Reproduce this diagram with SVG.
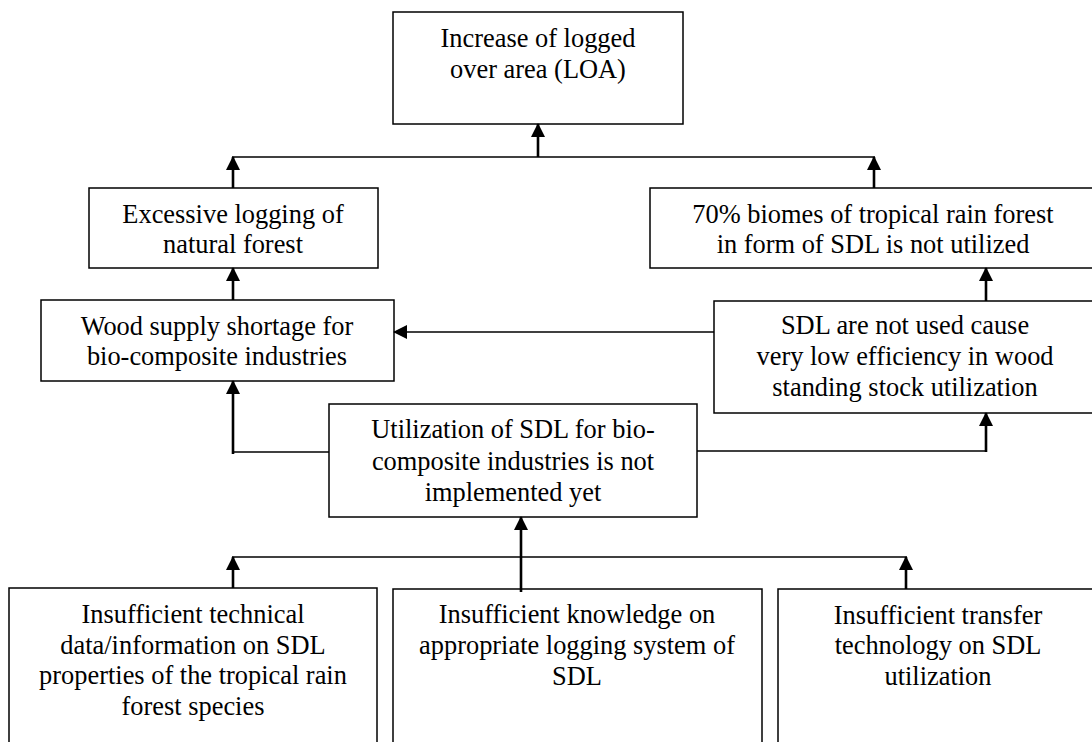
<svg xmlns="http://www.w3.org/2000/svg" width="1092" height="742" viewBox="0 0 1092 742">
<style>
.box{fill:#fff;stroke:#000;stroke-width:1.5}
.t{font-family:'Liberation Serif','Times New Roman',Tinos,'DejaVu Serif',serif;font-size:26.4px;fill:#000;text-anchor:middle}
.c{fill:none;stroke:#000;stroke-width:1.6}
.a{fill:none;stroke:#000;stroke-width:2.6;marker-end:url(#ah)}
.ah{fill:none;stroke:#000;stroke-width:1.6;marker-end:url(#ah)}
</style>
<defs>
<marker id="ah" markerUnits="userSpaceOnUse" markerWidth="14" markerHeight="14" refX="13" refY="7" orient="auto" viewBox="0 0 14 14">
<path d="M0,0 L14,7 L0,14 z" fill="#000"/>
</marker>
</defs>
<rect width="1092" height="742" fill="#fff"/>
<g id="n-loa">
<rect class="box" x="393" y="12" width="290" height="112"/>
<text class="t" font-family="Liberation Serif, serif" x="538" y="47">Increase of logged</text>
<text class="t" font-family="Liberation Serif, serif" x="538" y="78">over area (LOA)</text>
</g>
<g id="n-excessive">
<rect class="box" x="89" y="188" width="289" height="80"/>
<text class="t" x="233" y="223">Excessive logging of</text>
<text class="t" x="233" y="253">natural forest</text>
</g>
<g id="n-biomes">
<rect class="box" x="650" y="188" width="447" height="80"/>
<text class="t" x="873" y="223">70% biomes of tropical rain forest</text>
<text class="t" x="873" y="253">in form of SDL is not utilized</text>
</g>
<g id="n-wood">
<rect class="box" x="41" y="300" width="353" height="81"/>
<text class="t" x="217" y="335">Wood supply shortage for</text>
<text class="t" x="217" y="365">bio-composite industries</text>
</g>
<g id="n-sdl">
<rect class="box" x="714" y="301" width="383" height="112"/>
<text class="t" x="905" y="334">SDL are not used cause</text>
<text class="t" x="905" y="365">very low efficiency in wood</text>
<text class="t" x="905" y="396">standing stock utilization</text>
</g>
<g id="n-util">
<rect class="box" x="329" y="404" width="368" height="113"/>
<text class="t" x="513" y="438">Utilization of SDL for bio-</text>
<text class="t" x="513" y="470">composite industries is not</text>
<text class="t" x="513" y="501">implemented yet</text>
</g>
<g id="n-technical">
<rect class="box" x="9" y="588" width="368" height="170"/>
<text class="t" x="193" y="623">Insufficient technical</text>
<text class="t" x="193" y="654">data/information on SDL</text>
<text class="t" x="193" y="684">properties of the tropical rain</text>
<text class="t" x="193" y="715">forest species</text>
</g>
<g id="n-knowledge">
<rect class="box" x="393" y="589" width="369" height="170"/>
<text class="t" x="577" y="623">Insufficient knowledge on</text>
<text class="t" x="577" y="654">appropriate logging system of</text>
<text class="t" x="577" y="685">SDL</text>
</g>
<g id="n-transfer">
<rect class="box" x="778" y="589" width="320" height="170"/>
<text class="t" x="938" y="624">Insufficient transfer</text>
<text class="t" x="938" y="654">technology on SDL</text>
<text class="t" x="938" y="685">utilization</text>
</g>
<g id="connectors">
<line class="c" x1="232" y1="157" x2="875" y2="157"/>
<line class="a" x1="233" y1="188" x2="233" y2="157"/>
<line class="a" x1="874" y1="188" x2="874" y2="157"/>
<line class="a" x1="538" y1="157" x2="538" y2="124"/>
<line class="a" x1="233" y1="300" x2="233" y2="268"/>
<line class="a" x1="986" y1="301" x2="986" y2="268"/>
<line class="ah" x1="714" y1="332" x2="394" y2="332"/>
<polyline class="c" points="329,452 233,452"/>
<line class="a" x1="233" y1="454" x2="233" y2="381"/>
<polyline class="c" points="697,451 986,451"/>
<line class="a" x1="986" y1="452" x2="986" y2="413"/>
<line class="c" x1="232" y1="557" x2="907" y2="557"/>
<line class="a" x1="233" y1="588" x2="233" y2="557"/>
<line class="a" x1="906" y1="589" x2="906" y2="557"/>
<line class="a" x1="521" y1="592" x2="521" y2="517"/>
</g>
</svg>
